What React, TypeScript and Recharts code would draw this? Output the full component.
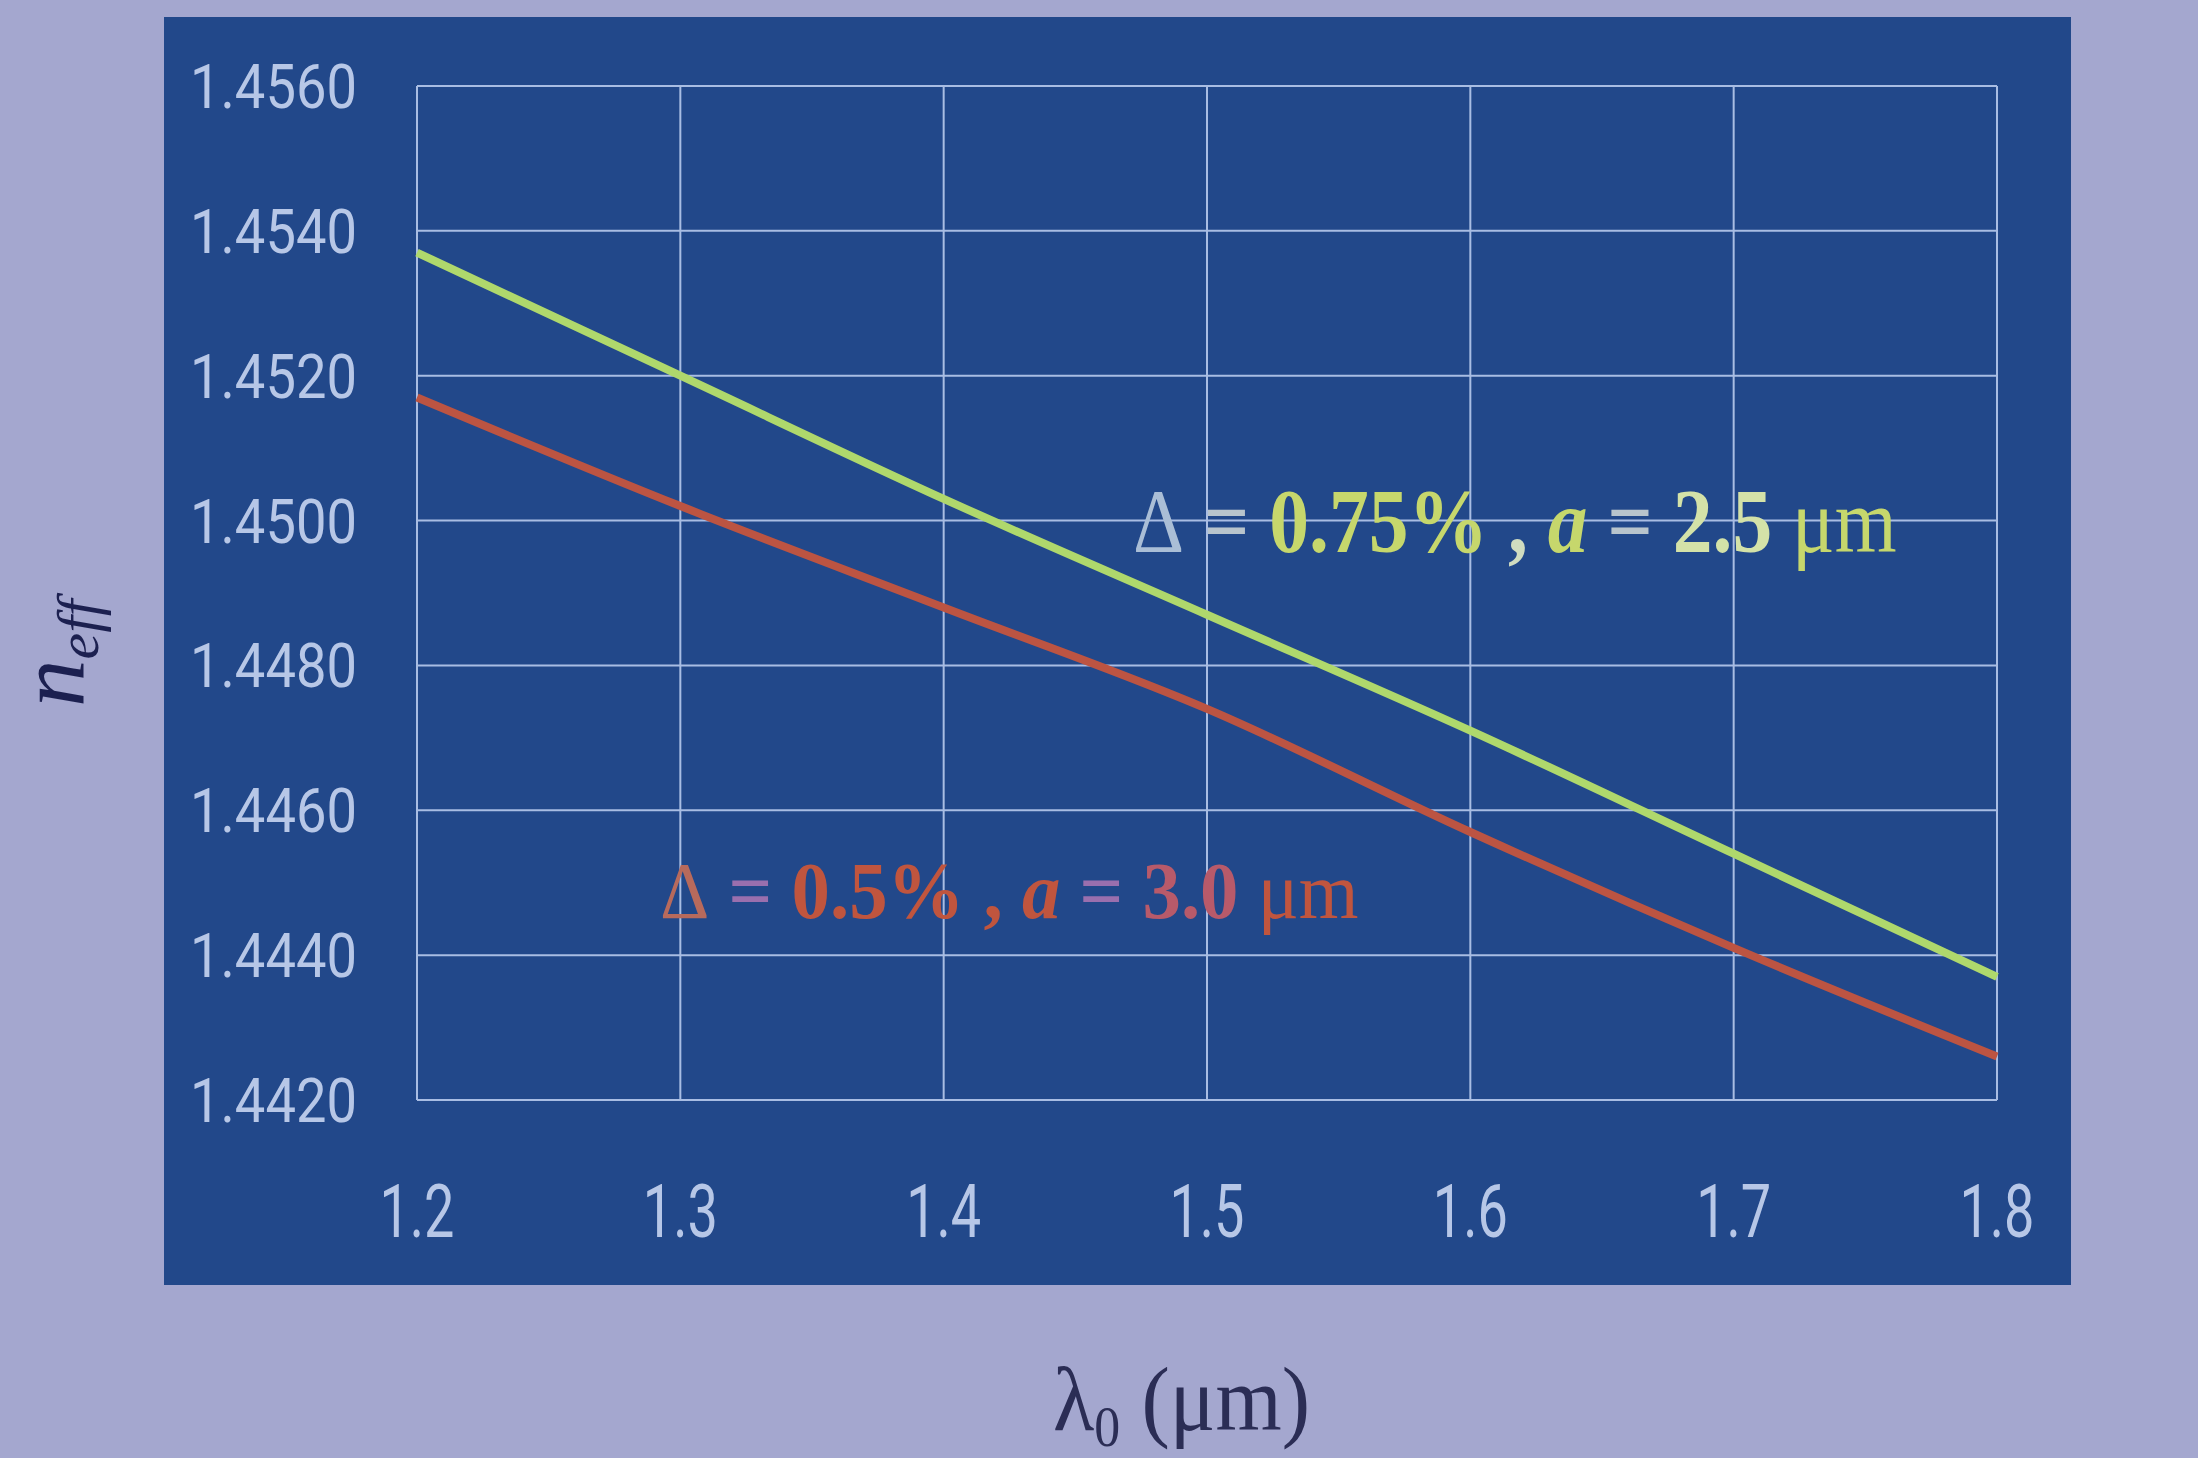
import { LineChart, Line, XAxis, YAxis, CartesianGrid } from "recharts";

const wavelengths = [1.2, 1.3, 1.4, 1.5, 1.6, 1.7, 1.8];
const neffHigh = [1.4537, 1.452, 1.4503, 1.4487, 1.4471, 1.4454, 1.4437];
const neffLow = [1.4517, 1.4502, 1.4488, 1.4474, 1.4457, 1.4441, 1.4426];

const xTicks = [1.2, 1.3, 1.4, 1.5, 1.6, 1.7, 1.8];
const yTicks = [1.442, 1.444, 1.446, 1.448, 1.45, 1.452, 1.454, 1.456];

const data = wavelengths.map((w, i) => ({ w, high: neffHigh[i], low: neffLow[i] }));

const TICK_COLOR = "#b7c7e7";
const SERIF = "'Liberation Serif', 'DejaVu Serif', serif";

const YTick = (props: any) => {
  const { x, y, payload } = props;
  return (
    <text
      x={x}
      y={y + 22}
      textAnchor="end"
      fill={TICK_COLOR}
      fontFamily="Roboto, sans-serif"
      fontSize={62}
      textLength={167}
      lengthAdjust="spacingAndGlyphs"
    >
      {Number(payload.value).toFixed(4)}
    </text>
  );
};

const XTick = (props: any) => {
  const { x, y, payload } = props;
  return (
    <text
      x={x}
      y={y + 137}
      textAnchor="middle"
      fill={TICK_COLOR}
      fontFamily="Roboto, sans-serif"
      fontSize={74}
      textLength={75}
      lengthAdjust="spacingAndGlyphs"
    >
      {Number(payload.value).toFixed(1)}
    </text>
  );
};

export default function App() {
  return (
    <div
      style={{
        position: "absolute",
        left: 0,
        top: 0,
        width: 2198,
        height: 1458,
        background: "#a4a7cf",
        overflow: "hidden",
      }}
    >
      <div
        style={{
          position: "absolute",
          left: 164,
          top: 17,
          width: 1907,
          height: 1268,
          background: "#22488a",
        }}
      >
        <LineChart
          width={1907}
          height={1268}
          data={data}
          margin={{ top: 69, right: 74, bottom: 0, left: 0 }}
        >
          <CartesianGrid stroke="#a9bde3" strokeWidth={2} />
          <XAxis
            dataKey="w"
            type="number"
            domain={[1.2, 1.8]}
            ticks={xTicks}
            height={185}
            axisLine={false}
            tickLine={false}
            tickSize={0}
            tickMargin={0}
            tick={<XTick />}
            interval={0}
          />
          <YAxis
            type="number"
            domain={[1.442, 1.456]}
            ticks={yTicks}
            width={253}
            axisLine={false}
            tickLine={false}
            tickSize={0}
            tickMargin={60}
            tick={<YTick />}
            interval={0}
          />
          <Line
            type="monotone"
            dataKey="high"
            stroke="#afd86c"
            strokeWidth={8}
            dot={false}
            isAnimationActive={false}
          />
          <Line
            type="monotone"
            dataKey="low"
            stroke="#bc5442"
            strokeWidth={8}
            dot={false}
            isAnimationActive={false}
          />
        </LineChart>
      </div>
      <svg
        width={2198}
        height={1458}
        style={{ position: "absolute", left: 0, top: 0, pointerEvents: "none" }}
      >
        {/* series annotations, squeezed horizontally like the slide */}
        <g transform="translate(1133, 552) scale(0.865, 1)">
          <text x={0} y={0} fontFamily={SERIF} fontWeight="bold" fontSize={92} fill="#c6d76c">
            <tspan fill="#aabed6" fontWeight="normal">Δ</tspan>
            <tspan fill="#b8c4cc"> = </tspan>
            <tspan>0.75%</tspan>
            <tspan fill="#d0dcc0"> , </tspan>
            <tspan fontStyle="italic">a</tspan>
            <tspan fill="#b8c4cc"> = </tspan>
            <tspan fill="#d4e2a8">2.5</tspan>
            <tspan fontWeight="normal"> μm</tspan>
          </text>
        </g>
        <g transform="translate(660, 918) scale(0.96, 1)">
          <text x={0} y={0} fontFamily={SERIF} fontWeight="bold" fontSize={80} fill="#c0553e">
            <tspan fill="#b86a5c" fontWeight="normal">Δ</tspan>
            <tspan fill="#9a6fae"> = </tspan>
            <tspan>0.5%</tspan>
            <tspan> , </tspan>
            <tspan fontStyle="italic">a</tspan>
            <tspan fill="#9a6fae"> = </tspan>
            <tspan fill="#b85a6a">3.0</tspan>
            <tspan fontWeight="normal"> μm</tspan>
          </text>
        </g>
        <text x={1053} y={1430} fontFamily={SERIF} fontSize={92} textLength={257} lengthAdjust="spacingAndGlyphs" fill="#2b2d55">
          λ<tspan fontSize={56} dy={16}>0</tspan>
          <tspan dy={-16}> (μm)</tspan>
        </text>
        <text
          transform="translate(84, 707) rotate(-90)"
          x={0}
          y={0}
          fontFamily={SERIF}
          fontStyle="italic"
          fontSize={95}
          fill="#1c2050"
        >
          n<tspan fontSize={60} dy={14}>eff</tspan>
        </text>
      </svg>
    </div>
  );
}
